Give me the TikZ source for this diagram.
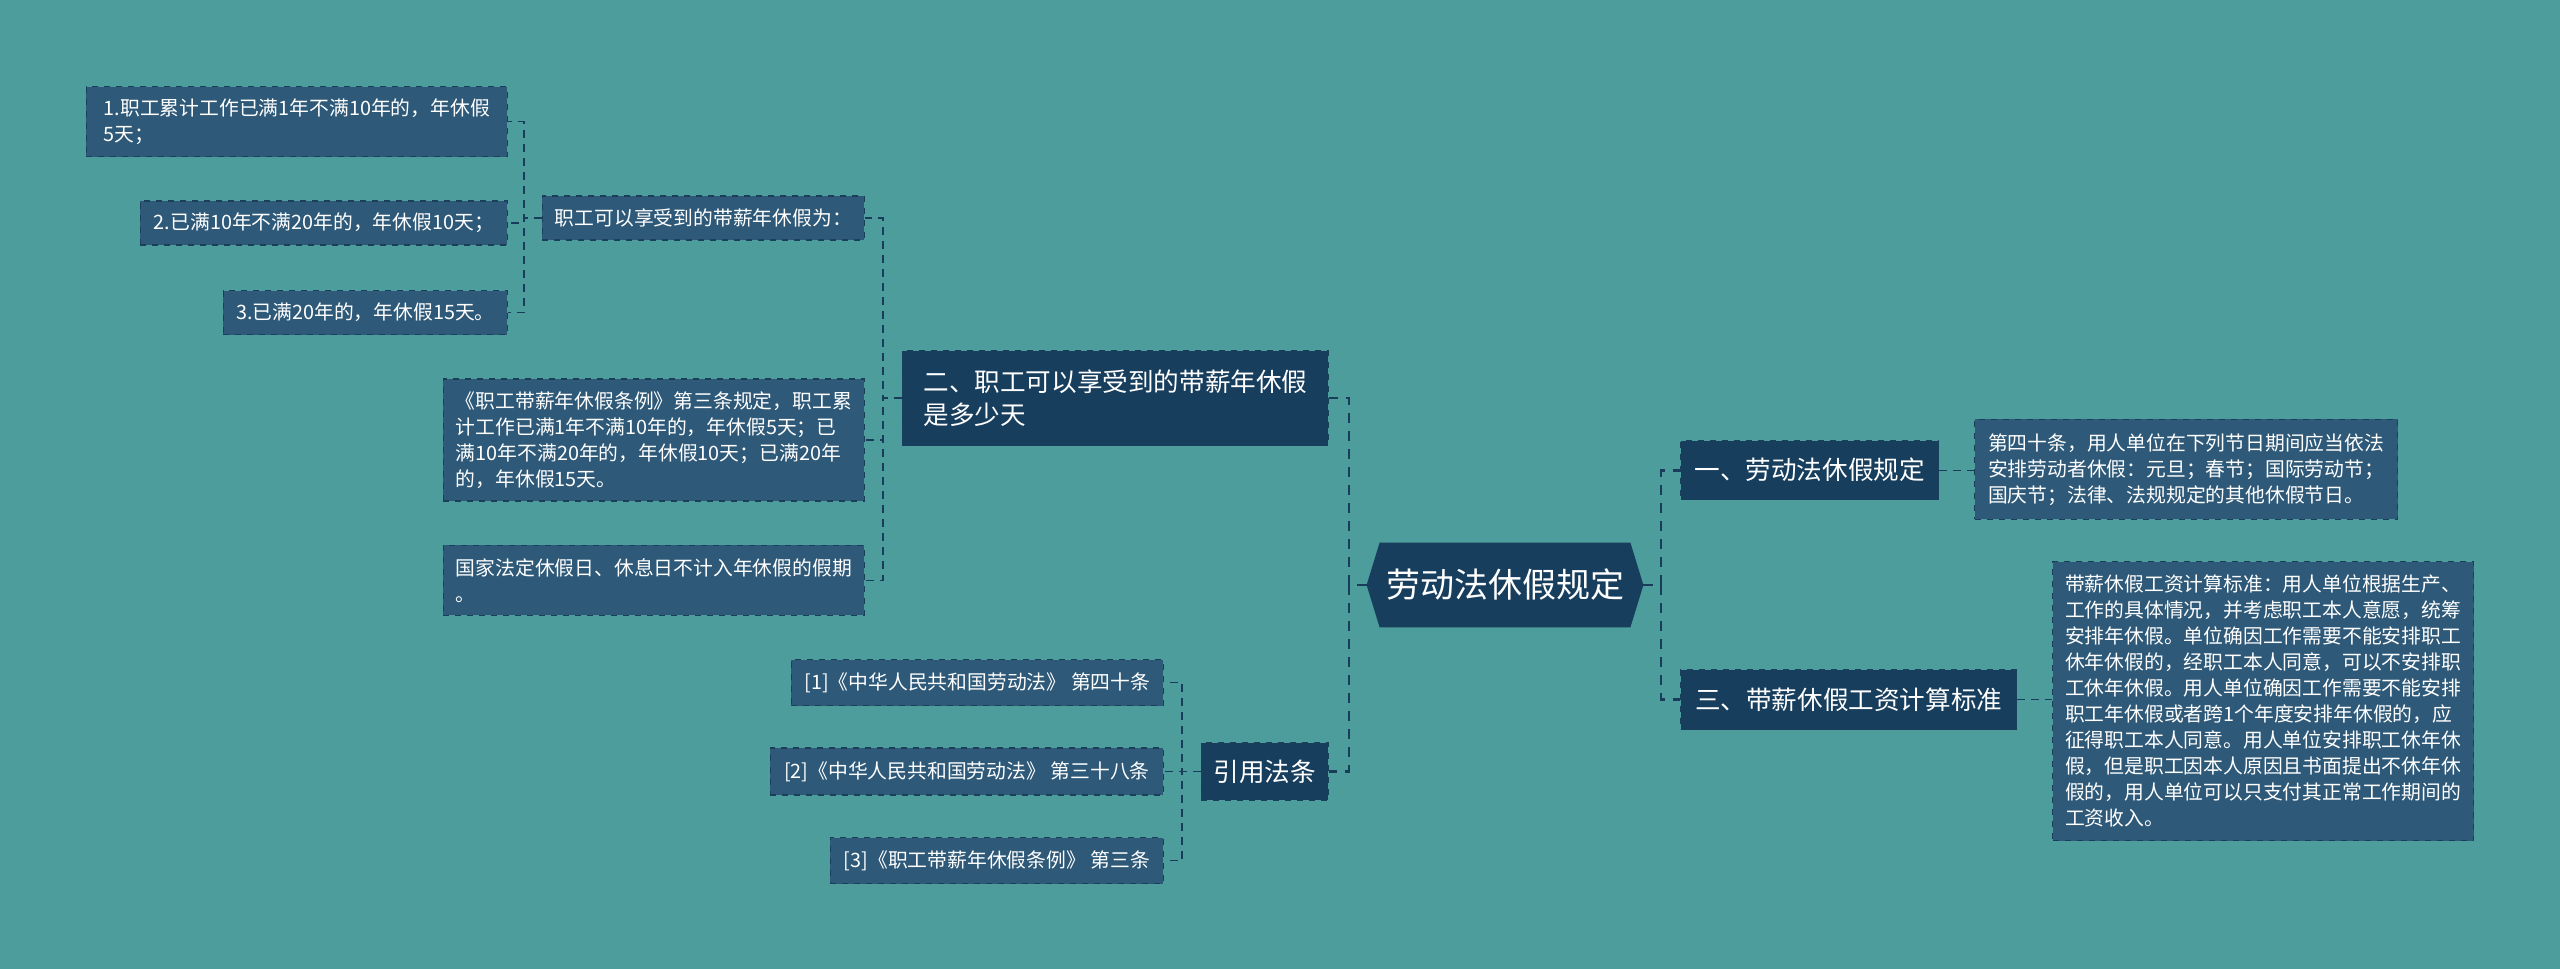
\documentclass[tikz,border=0pt]{standalone}
\usepackage{fontspec}
\setmainfont{Noto Sans CJK SC}
\usepackage{tikz}
\usetikzlibrary{backgrounds}
\definecolor{bgteal}{RGB}{78, 157, 157}
\definecolor{leafcol}{RGB}{46, 89, 120}
\definecolor{maincol}{RGB}{24, 62, 94}
\definecolor{leafline}{RGB}{27, 62, 90}
\definecolor{linkcol}{RGB}{24, 60, 90}

\begin{document}
\begin{tikzpicture}[x=0.5pt, y=-0.5pt,
  leaf/.style={draw=leafline, dashed, line width=0.6pt, fill=leafcol, text=white,
    font=\fontsize{9.9}{13}\selectfont, align=left, inner xsep=5pt, inner ysep=3pt},
  topic/.style={draw=leafline, dashed, line width=0.6pt, fill=maincol, text=white,
    font=\fontsize{12.8}{16.5}\selectfont, align=left, inner xsep=5pt, inner ysep=3pt},
  link/.style={draw=linkcol, line width=0.7pt, dash pattern=on 4pt off 3pt},
  trunk/.style={draw=linkcol, line width=1.4pt, dash pattern=on 5pt off 4pt}]

  \begin{scope}[on background layer]
    \fill[bgteal] (0, 0) rectangle (2560, 969);
  \end{scope}
  \useasboundingbox (0, 0) rectangle (2560, 969);

  % spine positions
  \coordinate (sl) at (1349, 585);
  \coordinate (sr) at (1661, 585);
  \coordinate (s7) at (883, 398);
  \coordinate (s4) at (524, 218);
  \coordinate (s8) at (1182, 771);

  % centre
  \node[minimum width=138pt, minimum height=42pt, inner sep=0pt, text=white,
    font=\fontsize{17}{20}\selectfont] (root) at (1505, 585) {劳动法休假规定};
  \begin{scope}[on background layer]
    \fill[maincol] (root.west) -- ([xshift=6.5pt]root.north west)
      -- ([xshift=-6.5pt]root.north east) -- (root.east)
      -- ([xshift=-6.5pt]root.south east) -- ([xshift=6.5pt]root.south west) -- cycle;
  \end{scope}

  % left side
  \node[topic, anchor=east, minimum width=213pt, minimum height=47.5pt] (n7) at (1329, 398)
    {二、职工可以享受到的带薪年休假\\是多少天};
  \node[topic, anchor=east, minimum width=63.5pt, minimum height=28.5pt] (n8) at (1329, 771.4)
    {引用法条};

  \node[leaf, anchor=east, minimum width=161pt, minimum height=22pt] (n4) at (865, 218)
    {职工可以享受到的带薪年休假为：};
  \node[leaf, anchor=east, minimum width=210.5pt, minimum height=61pt] (n5) at (865, 440)
    {《职工带薪年休假条例》第三条规定，职工累\\计工作已满1年不满10年的，年休假5天；已\\满10年不满20年的，年休假10天；已满20年\\的，年休假15天。};
  \node[leaf, anchor=east, minimum width=210.5pt, minimum height=35pt] (n6) at (865, 580.4)
    {国家法定休假日、休息日不计入年休假的假期\\。};

  \node[leaf, anchor=east, minimum width=210.5pt, minimum height=35pt] (n1) at (508, 121.6)
    {1.职工累计工作已满1年不满10年的，年休假\\5天；};
  \node[leaf, anchor=east, minimum width=183.5pt, minimum height=22pt] (n2) at (508, 223)
    {2.已满10年不满20年的，年休假10天；};
  \node[leaf, anchor=east, minimum width=142pt, minimum height=22pt] (n3) at (508, 312.7)
    {3.已满20年的，年休假15天。};

  \node[leaf, anchor=east, minimum width=186pt, minimum height=23pt] (n9) at (1164, 682.5)
    {[1]《中华人民共和国劳动法》 第四十条};
  \node[leaf, anchor=east, minimum width=196.5pt, minimum height=23.5pt] (n10) at (1164, 771.4)
    {[2]《中华人民共和国劳动法》 第三十八条};
  \node[leaf, anchor=east, minimum width=166.5pt, minimum height=23pt] (n11) at (1164, 860.5)
    {[3]《职工带薪年休假条例》 第三条};

  % right side
  \node[topic, anchor=west, minimum width=129pt, minimum height=29.5pt] (n13) at (1680, 470.2)
    {一、劳动法休假规定};
  \node[topic, anchor=west, minimum width=168pt, minimum height=30pt] (n15) at (1680, 699.6)
    {三、带薪休假工资计算标准};

  \node[leaf, anchor=west, minimum width=211.5pt, minimum height=50pt] (n14) at (1974, 469.4)
    {第四十条，用人单位在下列节日期间应当依法\\安排劳动者休假：元旦；春节；国际劳动节；\\国庆节；法律、法规规定的其他休假节日。};
  \node[leaf, anchor=west, minimum width=210.5pt, minimum height=139.5pt] (n16) at (2052, 701.2)
    {带薪休假工资计算标准：用人单位根据生产、\\工作的具体情况，并考虑职工本人意愿，统筹\\安排年休假。单位确因工作需要不能安排职工\\休年休假的，经职工本人同意，可以不安排职\\工休年休假。用人单位确因工作需要不能安排\\职工年休假或者跨1个年度安排年休假的，应\\征得职工本人同意。用人单位安排职工休年休\\假，但是职工因本人原因且书面提出不休年休\\假的，用人单位可以只支付其正常工作期间的\\工资收入。};

  % connectors
  \draw[trunk] (root.west) -- (root.west -| sl) |- (n7.east);
  \draw[trunk] (root.west) -- (root.west -| sl) |- (n8.east);
  \draw[trunk] (root.east) -- (root.east -| sr) |- (n13.west);
  \draw[trunk] (root.east) -- (root.east -| sr) |- (n15.west);

  \draw[link] (n13.east) -- (n13.east -| n14.west);
  \draw[link] (n15.east) -- (n15.east -| n16.west);

  \draw[link] (n7.west) -- (n7.west -| s7) |- (n4.east);
  \draw[link] (n7.west) -- (n7.west -| s7) |- (n5.east);
  \draw[link] (n7.west) -- (n7.west -| s7) |- (n6.east);

  \draw[link] (n4.west) -- (n4.west -| s4) |- (n1.east);
  \draw[link] (n4.west) -- (n4.west -| s4) |- (n2.east);
  \draw[link] (n4.west) -- (n4.west -| s4) |- (n3.east);

  \draw[link] (n8.west) -- (n8.west -| s8) |- (n9.east);
  \draw[link] (n8.west) -- (n8.west -| s8) |- (n10.east);
  \draw[link] (n8.west) -- (n8.west -| s8) |- (n11.east);

\end{tikzpicture}
\end{document}
